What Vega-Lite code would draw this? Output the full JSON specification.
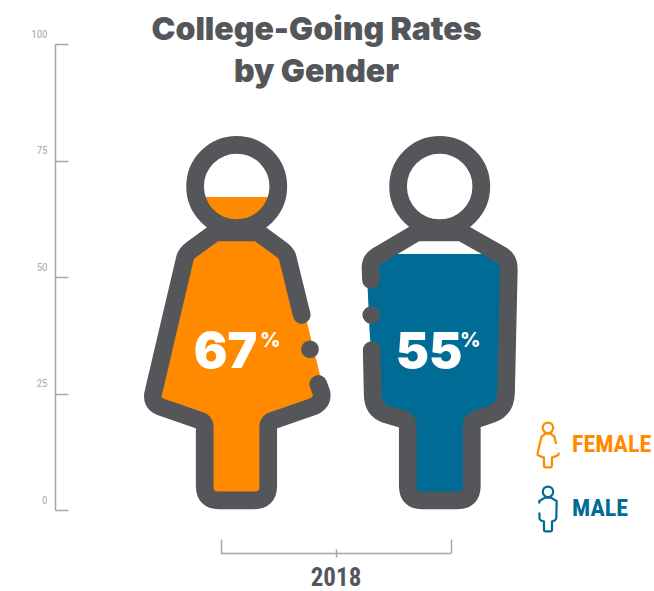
{
"$schema":"https://vega.github.io/schema/vega-lite/v6.json",
"width":599,"height":466,
"autosize":{"type":"none"},
"padding":{"left":55,"top":44,"right":0,"bottom":81},
"background":"white",
"config":{"view":{"stroke":null}},
"title":{"text":["College-Going Rates","by Gender"],"font":"Inter","fontWeight":900,"fontSize":32,"color":"#54565a","lineHeight":42,"anchor":"middle","frame":"group","dx":-38,"offset":-61},
"data":{"values":[{"year":"2018","gender":"FEMALE","value":67},{"year":"2018","gender":"MALE","value":55}]},
"encoding":{
 "x":{"field":"year","type":"ordinal","scale":{"type":"point","domain":["start","2018","end"],"range":[165.5,395.5],"padding":0},
  "axis":{"title":null,"offset":43,"domainColor":"#a3a5a8","domainWidth":1.5,"tickColor":"#a3a5a8","tickWidth":1.5,"labelAngle":0,"labelFont":"Roboto Condensed","labelFontWeight":"bold","labelFontSize":25,"labelColor":"#54565a","labelPadding":7,"labelBaseline":"top","labelExpr":"datum.value==='2018'?'2018':''","labelOverlap":false,"labelFlush":false,
   "encoding":{"ticks":{"y":{"value":{"expr":"datum.value==='2018'?-4:0"}},"y2":{"value":{"expr":"datum.value==='2018'?4:-14"}}}}}},
 "xOffset":{"field":"gender","type":"nominal","scale":{"type":"point","domain":["FEMALE","MALE"],"range":[-99.5,100.5],"padding":0}},
 "y":{"field":"value","type":"quantitative","scale":{"domain":[0,100],"nice":false},
  "axis":{"title":null,"values":[0,25,50,75,100],"grid":false,"domainColor":"#a3a5a8","domainWidth":1.5,"tickColor":"#a3a5a8","tickWidth":1.5,"tickSize":-13,"labelFont":"Roboto Condensed","labelFontWeight":400,"labelFontSize":11,"labelColor":"#a9abae","labelPadding":21,"labelOffset":-10,"labelBaseline":"middle"}}
},
"layer":[
 {"transform":[{"filter":"datum.gender==='FEMALE'"}],
  "mark":{"type":"point","filled":true,"color":"#ff8a00","opacity":1,"strokeWidth":0,"size":4,"shape":"M-39.55,-0.8 L40.95,-0.8 A41.6,41.6 0 0 1 -39.55,-0.8 Z M-21,34.7 L22,34.7 L54,56.2 L84,177.2 L87,202.2 L32,225.2 L32,302.2 L-31,302.2 L-31,225.2 L-86,202.2 L-50,56.2 Z"}},
 {"transform":[{"filter":"datum.gender==='MALE'"}],
  "mark":{"type":"point","filled":true,"color":"#006b94","opacity":1,"strokeWidth":0,"size":4,"shape":"M-58,0.3 L64,0.3 L70,20 L69,151.3 L36,171.3 L36,246.3 L-28,246.3 L-28,171.3 L-61,151.3 L-66.5,76.3 L-68.5,31.3 L-64,14.3 Z"}},
 {"transform":[{"filter":"datum.gender==='FEMALE'"}],
  "mark":{"type":"point","filled":false,"opacity":1,"stroke":"#54565a","strokeWidth":17.7,"strokeCap":"round","strokeJoin":"round","size":4,"shape":"M65.7,-195 L51.5,-253 Q50,-257 46,-260 L22,-277.5 L-21,-277.5 L-45,-260 Q-49.5,-257 -51,-252 L-82.5,-118 Q-85.5,-107 -75,-103 L-36,-89.5 Q-31.3,-88 -31.3,-83 L-31.3,-24 Q-31.3,-9.7 -17,-9.7 L18,-9.7 Q32.2,-9.7 32.2,-24 L32.2,-83 Q32.2,-88 37,-89.5 L76,-103 Q87,-107 85.5,-117 L82.3,-126 M42.3,-323.5 A41.6,41.6 0 1 0 -40.9,-323.5 A41.6,41.6 0 1 0 42.3,-323.5 Z M74,-160.7 L74,-160.69"},
  "encoding":{"y":{"datum":0}}},
 {"transform":[{"filter":"datum.gender==='MALE'"}],
  "mark":{"type":"point","filled":false,"opacity":1,"stroke":"#54565a","strokeWidth":17.7,"strokeCap":"round","strokeJoin":"round","size":4,"shape":"M-65,-230 L-65.5,-242 Q-65.5,-250 -59,-254 L-19.3,-277.5 L25.7,-277.5 L67,-254 Q73,-250 72.8,-240 L70,-117 Q69.5,-101 56,-96 L40,-90.5 Q35.8,-89 35.8,-84 L35.8,-24 Q35.8,-9.7 21.5,-9.7 L-14,-9.7 Q-28.2,-9.7 -28.2,-24 L-28.2,-84 Q-28.2,-89 -32.5,-90.5 L-51,-96 Q-63.3,-101 -63.3,-116 L-64.3,-160 M45.3,-323.5 A41.6,41.6 0 1 0 -37.9,-323.5 A41.6,41.6 0 1 0 45.3,-323.5 Z M-64.7,-195 L-64.7,-194.99"},
  "encoding":{"y":{"datum":0}}},
 {"transform":[{"filter":"datum.gender==='FEMALE'"}],
  "mark":{"type":"text","font":"Inter","fontWeight":900,"fontSize":50,"color":"white","align":"center","baseline":"alphabetic","dx":-10.5,"dy":-142},
  "encoding":{"y":{"datum":0},"text":{"field":"value","type":"quantitative"}}},
 {"transform":[{"filter":"datum.gender==='MALE'"}],
  "mark":{"type":"text","font":"Inter","fontWeight":900,"fontSize":50,"color":"white","align":"center","baseline":"alphabetic","dx":-7,"dy":-142},
  "encoding":{"y":{"datum":0},"text":{"field":"value","type":"quantitative"}}},
 {"mark":{"type":"text","text":"%","font":"Inter","fontWeight":800,"fontSize":20,"color":"white","align":"left","baseline":"alphabetic","dx":24,"dy":-163},
  "encoding":{"y":{"datum":0}}},
 {"mark":{"type":"point","filled":false,"opacity":0,"size":4},
  "encoding":{
   "stroke":{"field":"gender","type":"nominal","scale":{"domain":["FEMALE","MALE"],"range":["#ff8a00","#006b94"]},"legend":{"title":null,"orient":"none","legendX":481,"legendY":389,"symbolSize":4,"symbolStrokeWidth":2.2,"symbolFillColor":"transparent","symbolOpacity":1,"labelFont":"Roboto Condensed","labelFontWeight":"bold","labelFontSize":24,"labelOffset":12,"rowPadding":10,"padding":0,"encoding":{"labels":{"fill":{"value":{"expr":"datum.label==='FEMALE'?'#ff8a00':'#006b94'"}}}}}},
   "shape":{"field":"gender","type":"nominal","scale":{"domain":["FEMALE","MALE"],"range":[
    "M8.15,-1 L6.36,-8.32 L2.65,-11.4 L-2.77,-11.4 L-6.55,-8.19 L-10.5,8.69 Q-10.9,10.08 -9.58,10.58 L-4.07,12.6 L-4.07,20.5 Q-4.07,22.3 -2.27,22.3 L2.14,22.3 Q3.93,22.3 3.93,20.5 L3.93,12.6 L9.45,10.58 Q10.84,10.08 10.65,8.82 L10.24,7.69 M5.2,-17.2 A5.24,5.24 0 1 0 -5.28,-17.2 A5.24,5.24 0 1 0 5.2,-17.2 Z M9.2,3.31 L9.2,3.4",
    "M-8.69,-5.42 L-8.76,-7.94 L-2.94,-11.4 L2.73,-11.4 L8.67,-7.94 L8.32,8.82 Q8.25,10.84 6.55,11.47 L4,12.54 L4,20.54 Q4,22.34 2.2,22.34 L-2.27,22.34 Q-4.06,22.34 -4.06,20.54 L-4.06,12.54 L-6.93,11.47 Q-8.48,10.84 -8.48,8.95 L-8.6,3.4 M5.2,-17.2 A5.24,5.24 0 1 0 -5.28,-17.2 A5.24,5.24 0 1 0 5.2,-17.2 Z M-8.66,-1 L-8.66,-0.9"
   ]},"legend":{"title":null}}
  }}
]
}
